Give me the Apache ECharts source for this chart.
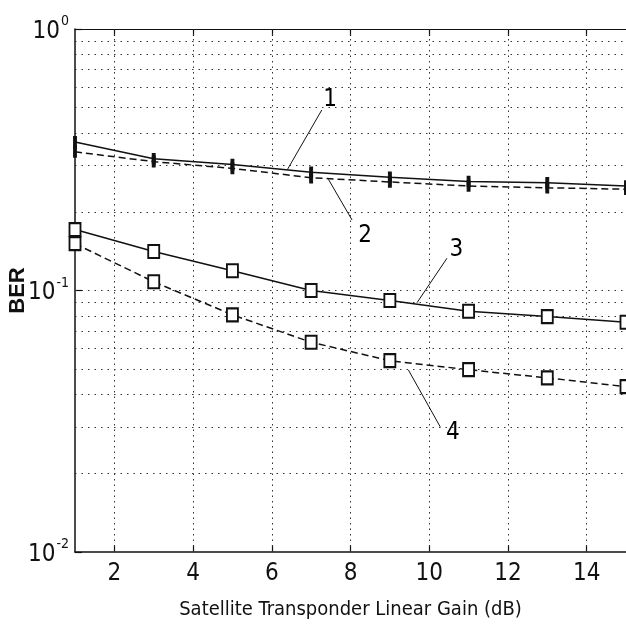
<!DOCTYPE html>
<html><head><meta charset="utf-8">
<script src="https://cdn.jsdelivr.net/npm/echarts@6/dist/echarts.min.js"></script>
<style>html,body{margin:0;padding:0;background:#fff}#c{width:626px;height:624px}</style>
</head><body><div id="c"></div><script>
// ---- data ----
const GAIN = [1, 3, 5, 7, 9, 11, 13, 15];
const BER_1 = [0.370, 0.319, 0.303, 0.283, 0.271, 0.261, 0.258, 0.251];
const BER_2 = [0.339, 0.311, 0.293, 0.270, 0.260, 0.251, 0.247, 0.244];
const BER_3 = [0.171, 0.141, 0.119, 0.100, 0.0916, 0.0833, 0.0795, 0.0756];
const BER_4 = [0.151, 0.108, 0.0807, 0.0634, 0.0539, 0.0498, 0.0463, 0.0429];
const X_TICKS = [2, 4, 6, 8, 10, 12, 14];
const Y_GRID = [0.02, 0.03, 0.04, 0.05, 0.06, 0.07, 0.08, 0.09, 0.1, 0.2, 0.3, 0.4, 0.5, 0.6, 0.7, 0.8, 0.9];
const CURVE_LABELS = ['1', '2', '3', '4'];
const LABEL_AT = [[7.48, 0.535], [8.37, 0.1616], [10.69, 0.1429], [10.60, 0.0285]];
const LEADER_FROM = [[6.40, 0.2906], [7.44, 0.266], [9.69, 0.0898], [9.47, 0.0497]];
const LEADER_TO = [[7.27, 0.490], [8.04, 0.186], [10.45, 0.1328], [10.28, 0.0301]];
const X_NAME = 'Satellite Transponder Linear Gain (dB)';
const Y_NAME = 'BER';

const FONT = "'Liberation Sans Narrow', 'DejaVu Sans Condensed', 'Liberation Sans', Arial, sans-serif";
const INK = '#111';
const pair = (xs, ys) => xs.map((x, i) => [x, ys[i]]);

const gridLines = X_TICKS.map(v => ({ xAxis: v, lineStyle: { type: [1.5, 4] } }))
  .concat(Y_GRID.map(v => ({ yAxis: v, lineStyle: { type: [1.5, 5] } })));

const lineBase = (name, data, dashed, symbol, size) => ({
  name, type: 'line', data, symbol, symbolSize: size, showSymbol: true,
  lineStyle: { color: INK, width: 1.5, type: dashed ? [7, 4] : 'solid' },
  itemStyle: { color: INK, borderColor: INK, borderWidth: 1.5 },
  z: 5, animation: false
});

const s1 = lineBase('1', pair(GAIN, BER_1), false, 'rect', [3, 9]);
s1.markLine = {
  silent: true, symbol: 'none', animation: false, label: { show: false },
  lineStyle: { color: '#333', width: 1 },
  data: gridLines
};
s1.z = 6;

const option = {
  backgroundColor: '#fff',
  animation: false,
  grid: { left: 75, right: 0, top: 29, bottom: 72, containLabel: false, outerBoundsMode: 'none' },
  xAxis: [{
    type: 'value', min: 1, max: 15, position: 'bottom',
    axisLine: { show: true, lineStyle: { color: INK, width: 1.5 } },
    axisTick: { show: true, inside: true, length: 7, customValues: X_TICKS, lineStyle: { color: INK, width: 1.2 } },
    axisLabel: { show: true, customValues: X_TICKS, color: INK, fontFamily: FONT, fontSize: 24, margin: 10 },
    splitLine: { show: false },
    name: X_NAME, nameLocation: 'middle', nameGap: 48, nameMoveOverlap: false,
    nameTextStyle: { color: INK, fontFamily: FONT, fontSize: 20 }
  }, {
    type: 'value', min: 1, max: 15, position: 'top',
    axisLine: { show: true, lineStyle: { color: INK, width: 1.2 } },
    axisTick: { show: true, inside: true, length: 7, customValues: X_TICKS, lineStyle: { color: INK, width: 1.2 } },
    axisLabel: { show: false },
    splitLine: { show: false }
  }],
  yAxis: {
    type: 'log', logBase: 10, min: 0.01, max: 1,
    axisLine: { show: true, lineStyle: { color: INK, width: 1.5 } },
    axisTick: { show: true, inside: true, length: 7, lineStyle: { color: INK, width: 1.2 } },
    splitLine: { show: false },
    axisLabel: {
      margin: 6,
      formatter: v => '{b|10}{s|' + Math.round(Math.log10(v)) + '}',
      rich: {
        b: { fontFamily: FONT, fontSize: 24, color: INK, verticalAlign: 'bottom' },
        s: { fontFamily: FONT, fontSize: 14, color: INK, verticalAlign: 'bottom', padding: [0, 0, 15, 1] }
      }
    },
    name: Y_NAME, nameLocation: 'middle', nameRotate: 90, nameGap: 46, nameMoveOverlap: false,
    nameTextStyle: { color: INK, fontFamily: "'Liberation Sans', Arial, sans-serif", fontWeight: 'bold', fontSize: 22 }
  },
  series: [
    s1,
    lineBase('2', pair(GAIN, BER_2), true, 'rect', [3, 9]),
    lineBase('3', pair(GAIN, BER_3), false, 'emptyRect', [11, 13]),
    lineBase('4', pair(GAIN, BER_4), true, 'emptyRect', [11, 13]),
    {
      name: 'labels', type: 'scatter', symbolSize: 0, silent: true, z: 8,
      itemStyle: { opacity: 1 },
      data: LABEL_AT.map((p, i) => ({ value: p, name: CURVE_LABELS[i] })),
      label: { show: true, position: 'inside', formatter: p => p.name, color: '#000', opacity: 1,
               textBorderWidth: 0, fontFamily: FONT, fontSize: 24 },
      markLine: {
        silent: true, symbol: 'none', animation: false, label: { show: false },
        lineStyle: { color: INK, width: 1, type: 'solid' },
        data: LEADER_FROM.map((p, i) => [{ coord: p }, { coord: LEADER_TO[i] }])
      }
    }
  ]
};
const chart = echarts.init(document.getElementById('c'), null, { renderer: 'canvas' });
chart.setOption(option);
</script></body></html>
